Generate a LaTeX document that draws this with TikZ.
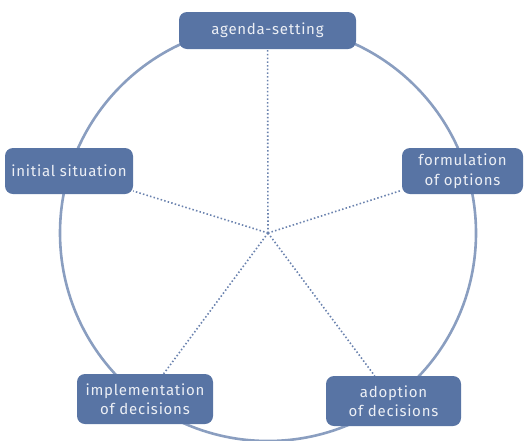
\documentclass[tikz,border=0pt]{standalone}
\usepackage{fontspec}
\setmainfont{Fira Sans}[LetterSpace=5]
\definecolor{boxblue}{HTML}{5874A4}
\definecolor{ringblue}{HTML}{8A9EC0}
\definecolor{spokeblue}{HTML}{6A82AE}
\definecolor{labelwhite}{HTML}{ECEFF5}
\begin{document}
\begin{tikzpicture}[x=1pt,y=-1pt,
  stage/.style={fill=boxblue, rounded corners=8pt, text=labelwhite,
    font=\fontsize{15}{19.5}\selectfont, align=center, inner sep=0pt},
  spoke/.style={spokeblue, line width=1.6pt, dash pattern=on 1.5pt off 2.2pt},
  ring/.style={ringblue, line width=2.6pt}]
\useasboundingbox (0,0) rectangle (524,440);
\coordinate (hub) at (268,233);
% cycle ring
\draw[ring] (hub) circle[radius=208];
% stages
\node[stage, minimum width=177pt, minimum height=37pt] (agenda) at (267.5,30.5) {agenda-setting};
\node[stage, minimum width=128pt, minimum height=46pt] (initial) at (69,171) {initial situation};
\node[stage, minimum width=121pt, minimum height=46pt] (formul) at (462.5,171) {formulation\\of options};
\node[stage, minimum width=136pt, minimum height=50pt] (implem) at (145,399) {implementation\\of decisions};
\node[stage, minimum width=135pt, minimum height=50pt] (adopt) at (393.5,401) {adoption\\of decisions};
% spokes from the hub
\foreach \s in {agenda,initial,formul,implem,adopt}
  \draw[spoke] (hub) -- (\s);
\fill[spokeblue] (hub) circle[radius=1.4pt];
\end{tikzpicture}
\end{document}
